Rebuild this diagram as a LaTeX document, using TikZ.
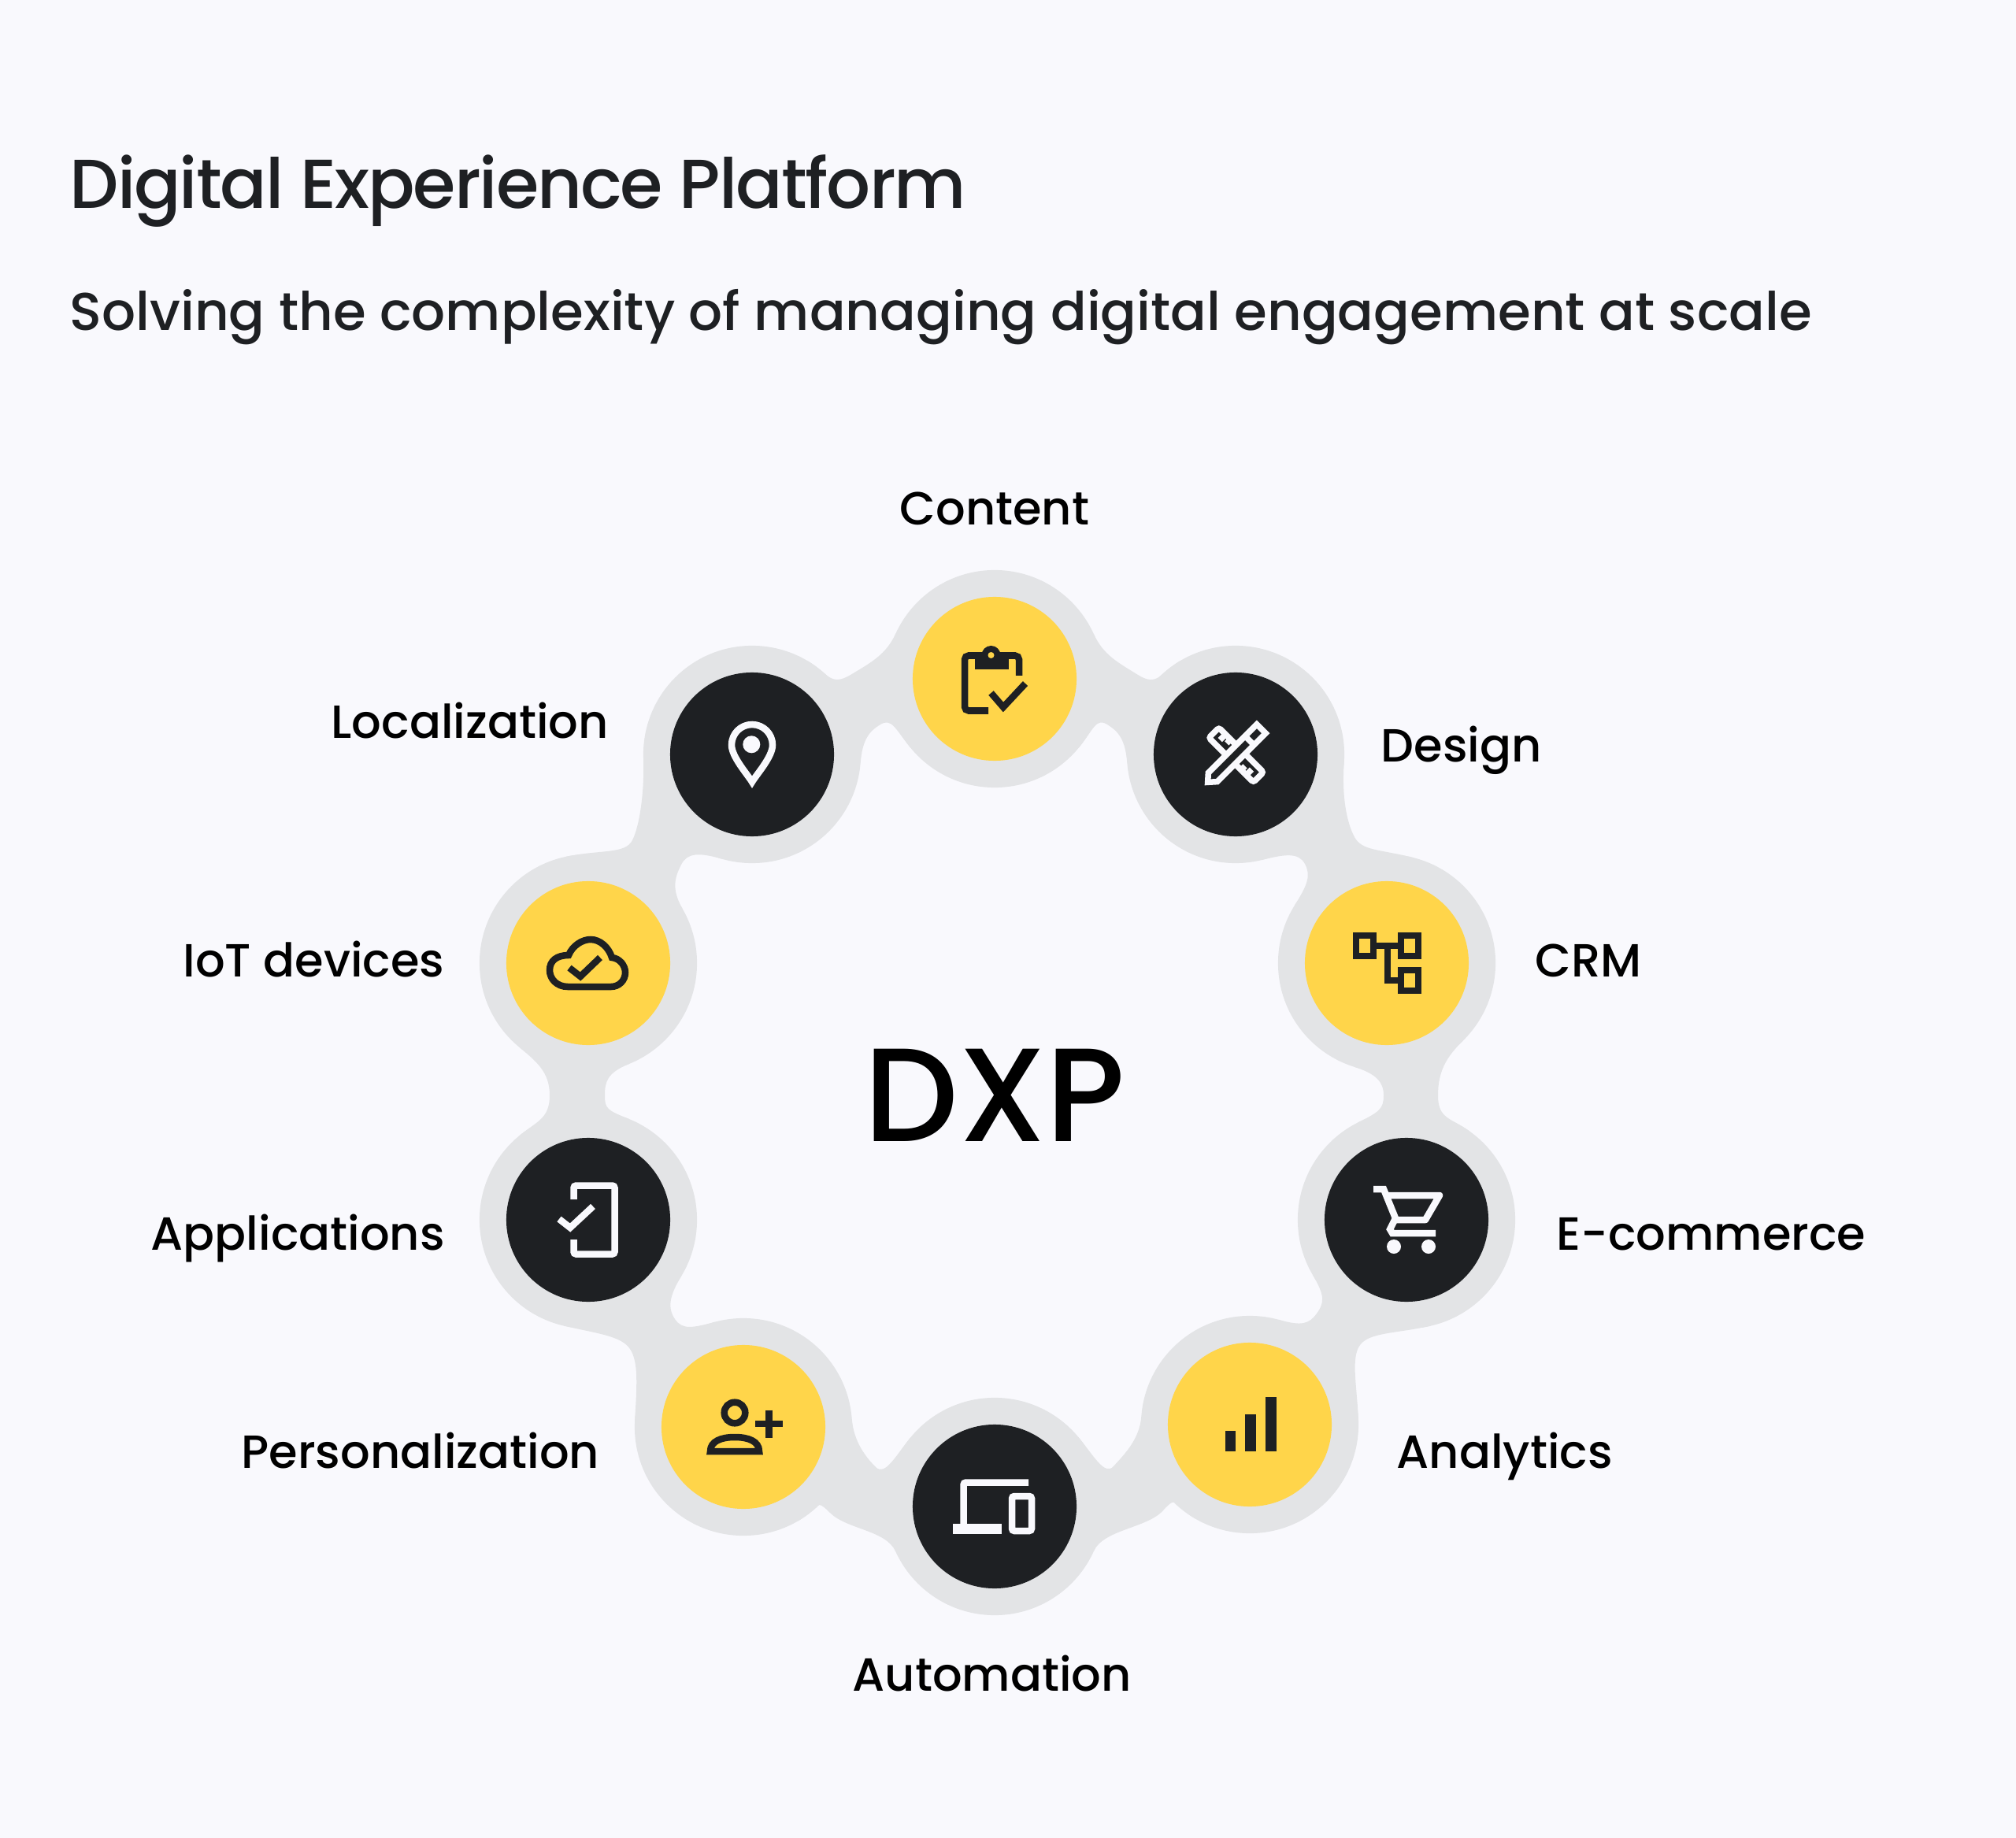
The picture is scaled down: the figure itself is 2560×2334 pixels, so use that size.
\documentclass[tikz,border=0pt]{standalone}
\usepackage{fontspec}
\setmainfont{Poppins}
\newfontfamily\medfont{Poppins}[UprightFont=* Medium]
\newfontfamily\titlefont{Poppins}[UprightFont=* Medium,LetterSpace=-2.3]
\usetikzlibrary{calc}
\definecolor{paper}{HTML}{F9F9FD}
\definecolor{ring}{HTML}{E3E4E6}
\definecolor{sun}{HTML}{FFD54A}
\definecolor{ink}{HTML}{1E2023}
\tikzset{
	halo/.style={fill=ring},
	dot/.style={circle,inner sep=0pt,minimum size=2.08cm},
	label/.style={anchor=base west,inner sep=0pt,text=black,font=\medfont\fontsize{16.8}{20}\selectfont},
	glyph/.style={line width=0.085cm,line join=miter}
}
\newcommand{\neck}[7]{
\coordinate (ao) at ($(#1)!1.38cm!#5:(#2)$);
\coordinate (bo) at ($(#2)!1.38cm!-#5:(#1)$);
\coordinate (ai) at ($(#1)!1.38cm!-22:(#2)$);
\coordinate (bi) at ($(#2)!1.38cm!22:(#1)$);
\fill[halo] (ao) .. controls ($(ao)!#6cm!90:(#1)$) and ($(#3)!#7cm!-90:(#4)$) .. (#3)
	.. controls ($(#3)!#7cm!90:(#4)$) and ($(bo)!#6cm!-90:(#2)$) .. (bo)
	-- (bi) .. controls ($(bi)!0.3cm!90:(#2)$) and ($(#4)!0.17cm!-90:(#3)$) .. (#4)
	.. controls ($(#4)!0.17cm!90:(#3)$) and ($(ai)!0.3cm!-90:(#1)$) .. (ai) -- cycle;
}
\begin{document}
\begin{tikzpicture}[x=0.01cm,y=-0.01cm]
\fill[paper] (0,0) rectangle (2560,2334);
\useasboundingbox (0,0) rectangle (2560,2334);
\node[anchor=base west,inner sep=0pt,text=ink,font=\titlefont\fontsize{25}{30}\selectfont] (title) at (88,265) {Digital Experience Platform};
\node[anchor=base west,inner sep=0pt,text=ink,font=\medfont\fontsize{19.2}{24}\selectfont] (subtitle) at (88,420) {Solving the complexity of managing digital engagement at scale};
\foreach \name/\x/\y in {content/1263/862,design/1569/958,crm/1761/1223,ecommerce/1786/1549,analytics/1587/1809,automation/1263/1913,personal/944/1812,applications/747/1549,iot/747/1223,local/955/958}
{
	\coordinate (\name) at (\x,\y);
	\fill[halo] (\name) circle (1.38cm);
}
\neck{content}{design}{1445,857}{1406,920}{42}{0.3}{0.3}
\neck{design}{crm}{1720,1063}{1657,1097}{50}{0.45}{0.2}
\neck{crm}{ecommerce}{1826,1391}{1757,1391}{40}{0.3}{0.3}
\neck{ecommerce}{analytics}{1727,1708}{1672,1668}{50}{0.45}{0.2}
\neck{analytics}{automation}{1477,1918}{1414,1862}{42}{0.3}{0.3}
\neck{automation}{personal}{1054,1921}{1112,1863}{42}{0.3}{0.3}
\neck{personal}{applications}{800,1713}{857,1675}{50}{0.45}{0.2}
\neck{applications}{iot}{698,1391}{768,1391}{40}{0.3}{0.3}
\neck{iot}{local}{803,1067}{865,1098}{50}{0.45}{0.2}
\neck{local}{content}{1080,857}{1118,920}{42}{0.3}{0.3}
\foreach \name in {content,crm,analytics,personal,iot}
	\node[dot,fill=sun] (\name dot) at (\name) {};
\foreach \name in {design,ecommerce,automation,applications,local}
	\node[dot,fill=ink] (\name dot) at (\name) {};
\node[anchor=base west,inner sep=0pt,text=black,font=\medfont\fontsize{48}{60}\selectfont] (dxp) at (1097,1449) {DXP};
\node[label] (contentlabel) at (1142,667) {Content};
\node[label] (designlabel) at (1753,967) {Design};
\node[label] (crmlabel) at (1949,1240) {CRM};
\node[label] (ecommercelabel) at (1976,1587) {E-commerce};
\node[label] (analyticslabel) at (1773,1864) {Analytics};
\node[label] (automationlabel) at (1082,2147) {Automation};
\node[label] (personallabel) at (306,1864) {Personalization};
\node[label] (applicationslabel) at (191,1587) {Applications};
\node[label] (iotlabel) at (232,1240) {IoT devices};
\node[label] (locallabel) at (420,937) {Localization};
% clipboard
\begin{scope}[shift={(content)},glyph,ink]
\draw[rounded corners=0.05cm] (-8,40.5) -- (-38,40.5) -- (-38,-29.5) -- (31,-29.5) -- (31,-4);
\fill (-25.5,-34) rectangle (18,-12);
\fill (-4.5,-30) circle (0.12cm);
\fill[sun] (-4.5,-30) circle (0.04cm);
\draw (-4.5,18) -- (11,36) -- (39,6);
\end{scope}
% pencil and ruler
\begin{scope}[shift={(design)},paper,glyph,line width=0.075cm]
\begin{scope}[rotate=-45]
\draw[rounded corners=0.03cm] (-39,-9) rectangle (41,9);
\draw (-27,-9) -- (-27,1) (-18,-9) -- (-18,-2) (19,9) -- (19,2) (28,9) -- (28,-1);
\end{scope}
\begin{scope}[rotate=45]
\draw[fill=ink] (-50,0) -- (-41,-8) -- (46,-8) -- (46,8) -- (-41,8) -- cycle;
\draw (25,-8) -- (25,8);
\end{scope}
\end{scope}
% org chart
\begin{scope}[shift={(crm)},glyph,ink]
\draw (-39,-35) rectangle (-17,-9);
\draw (18,-35) rectangle (40,-9);
\draw (18,9) rectangle (40,35);
\draw (-17,-22) -- (18,-22);
\draw (1,-22) -- (1,22) -- (18,22);
\end{scope}
% cart
\begin{scope}[shift={(ecommerce)},glyph,paper]
\draw (-42,-39) -- (-29,-39) -- (-14,-2) -- (-21,12) -- (-18,17) -- (37,17);
\draw[line join=round] (-24,-31) -- (42,-31) -- (24,0) -- (-14,0);
\fill (-16,34) circle (0.09cm);
\fill (28,34) circle (0.09cm);
\end{scope}
% bars
\begin{scope}[shift={(analytics)},ink]
\fill (-31,8) rectangle (-18.5,34);
\fill (-6,-13) rectangle (8,34);
\fill (20,-35) rectangle (33.5,34);
\end{scope}
% laptop and phone
\begin{scope}[shift={(automation)},glyph,paper]
\draw[rounded corners=0.03cm] (43,-30.5) -- (-39.5,-30.5) -- (-39.5,25);
\fill (-53,22) rectangle (8.5,35);
\draw[rounded corners=0.03cm] (22,-13) rectangle (47,31);
\end{scope}
% person
\begin{scope}[shift={(personal)},glyph,ink]
\draw (-11,-18) circle (0.133cm);
\draw (-42,31) .. controls (-42,18) and (-28,13) .. (-11,13) .. controls (6,13) and (20,18) .. (20,31) -- cycle;
\draw (15,-4) -- (50,-4);
\draw (32.5,-21.5) -- (32.5,13.5);
\end{scope}
% phone tick
\begin{scope}[shift={(applications)},glyph,paper]
\draw[rounded corners=0.03cm] (-18.5,-26) -- (-18.5,-43.5) -- (33.5,-43.5) -- (33.5,43.5) -- (-18.5,43.5) -- (-18.5,25);
\draw (-37,-1) -- (-23,10) -- (6,-17);
\end{scope}
% cloud
\begin{scope}[shift={(iot)},glyph,ink]
\draw (-26,30) .. controls (-40,30) and (-49,20) .. (-49,9) .. controls (-49,-3) and (-40,-10) .. (-25,-10)
	.. controls (-20,-22) and (-8,-30) .. (3,-30) .. controls (15,-30) and (26,-20) .. (30,-7)
	.. controls (40,-6) and (47,3) .. (47,12) .. controls (47,22) and (39,30) .. (29,30) -- cycle;
\draw (-24,6) -- (-10,17) -- (15,-7);
\end{scope}
% pin
\begin{scope}[shift={(local)},glyph,paper]
\draw (0,35) .. controls (-6,25) and (-26,3) .. (-26,-12) arc (180:360:26) .. controls (26,3) and (6,25) .. (0,35) -- cycle;
\fill (-0.7,-12.7) circle (0.11cm);
\end{scope}
\end{tikzpicture}
\end{document}
